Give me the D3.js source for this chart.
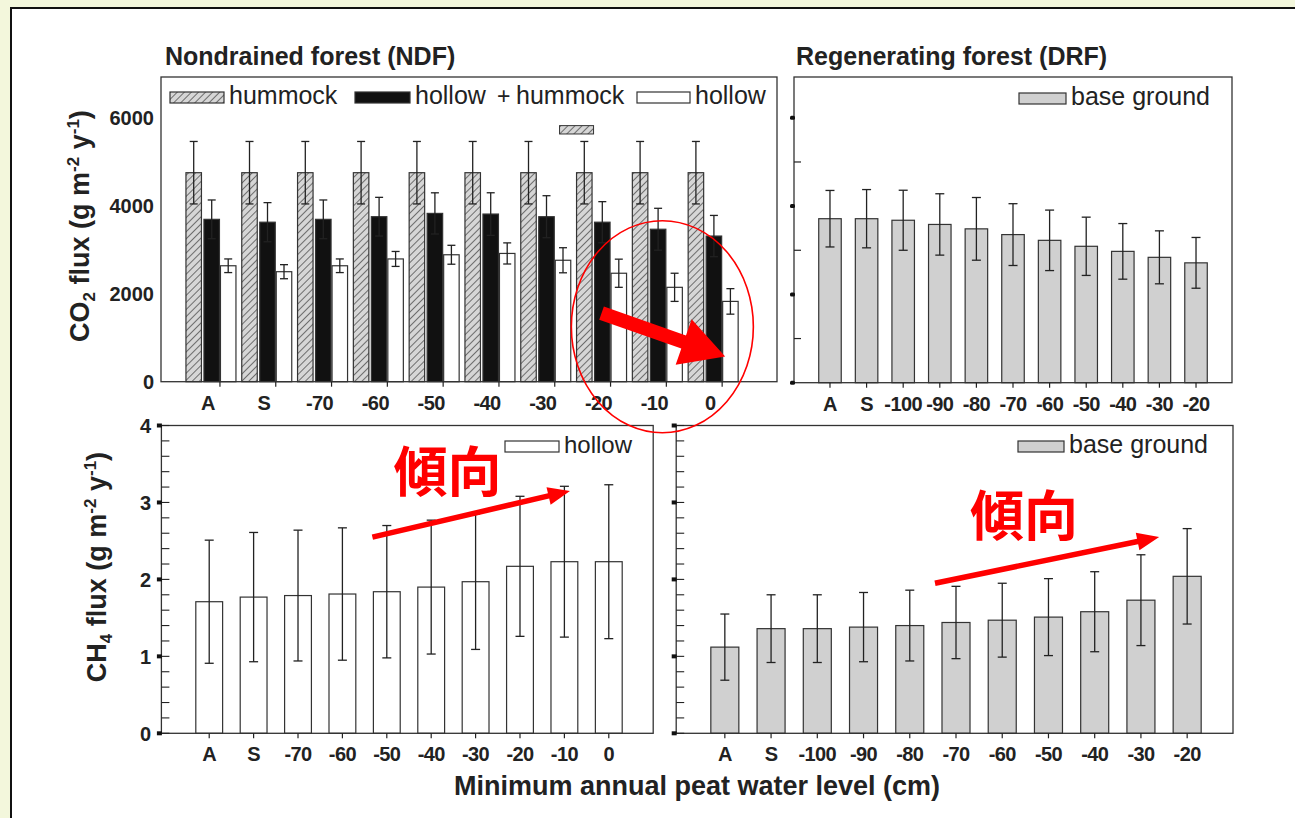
<!DOCTYPE html>
<html>
<head>
<meta charset="utf-8">
<script src="https://d3js.org/d3.v7.min.js"></script>
<style>
  body { margin: 0; background: #f3f7dc; }
  svg { display: block; font-family: "Liberation Sans", Arial, sans-serif; }
  .tick text { font-weight: bold; fill: #222; }
</style>
</head>
<body>
<script>
// ---- data ----
const ndfLevels = ['A', 'S', '-70', '-60', '-50', '-40', '-30', '-20', '-10', '0'];
const drfLevels = ['A', 'S', '-100', '-90', '-80', '-70', '-60', '-50', '-40', '-30', '-20'];

const co2Hummock    = [4750, 4750, 4750, 4750, 4750, 4750, 4750, 4750, 4750, 4750];
const co2HummockErr = [710, 710, 710, 710, 710, 710, 710, 710, 710, 710];
const co2Hollow     = [3690, 3625, 3690, 3750, 3825, 3810, 3750, 3625, 3465, 3310];
const co2HollowErr  = [440, 445, 440, 440, 468, 484, 477, 467, 476, 469];
const co2HollowH    = [2635, 2500, 2635, 2790, 2885, 2915, 2760, 2465, 2145, 1825];
const co2HollowHErr = [155, 160, 155, 170, 215, 240, 285, 320, 320, 290];

const co2Base    = [3715, 3715, 3680, 3585, 3485, 3355, 3225, 3090, 2975, 2840, 2715];
const co2BaseErr = [640, 660, 680, 695, 710, 700, 685, 660, 630, 600, 575];

const ch4Hollow    = [1.71, 1.77, 1.79, 1.81, 1.84, 1.90, 1.97, 2.17, 2.23, 2.23];
const ch4HollowErr = [0.80, 0.84, 0.85, 0.86, 0.86, 0.87, 0.88, 0.91, 0.98, 1.00];
const ch4Base      = [1.12, 1.36, 1.36, 1.38, 1.40, 1.44, 1.47, 1.51, 1.58, 1.73, 2.04];
const ch4BaseErr   = [0.43, 0.44, 0.44, 0.45, 0.46, 0.47, 0.48, 0.50, 0.52, 0.59, 0.62];

const co2Ticks = [0, 2000, 4000, 6000];
const ch4Ticks = [0, 1, 2, 3, 4];

const W = 1295, H = 818;
const svg = d3.select('body').append('svg').attr('width', W).attr('height', H);

const defs = svg.append('defs');
const pat = defs.append('pattern').attr('id', 'hatch')
  .attr('patternUnits', 'userSpaceOnUse').attr('width', 5).attr('height', 5)
  .attr('patternTransform', 'rotate(45)');
pat.append('rect').attr('width', 5).attr('height', 5).attr('fill', '#d6d6d6');
pat.append('line').attr('x1', 0).attr('y1', 0).attr('x2', 0).attr('y2', 5)
  .attr('stroke', '#333').attr('stroke-width', 1.3);

// page background
svg.append('rect').attr('width', W).attr('height', H).attr('fill', '#f3f7dc');
svg.append('rect').attr('x', 11).attr('y', 8).attr('width', W).attr('height', H)
  .attr('fill', '#fff').attr('stroke', '#111').attr('stroke-width', 2);

// ---- scales ----
const yCO2a = d3.scaleLinear().domain([0, 6925]).range([381.7, 77]);
const yCO2b = d3.scaleLinear().domain([0, 6925]).range([382.7, 77]);
const yCH4 = d3.scaleLinear().domain([0, 4]).range([733.3, 425.5]);

const x1 = d3.scaleBand().domain(ndfLevels).range([184, 742]).paddingInner(0.07).paddingOuter(0.035);
const x2 = d3.scaleBand().domain(drfLevels).range([805, 1221]).paddingInner(0.385).paddingOuter(0.375);
const x3 = d3.scaleBand().domain(ndfLevels).range([180, 638]).paddingInner(0.396).paddingOuter(0.356);
const x4 = d3.scaleBand().domain(drfLevels).range([694, 1218]).paddingInner(0.394).paddingOuter(0.364);

const ink = '#222';

function frame(x0, x1_, y0, y1) {
  svg.append('rect').attr('x', x0).attr('y', y0).attr('width', x1_ - x0).attr('height', y1 - y0)
    .attr('fill', 'none').attr('stroke', '#333').attr('stroke-width', 1.3);
}

function errBars(xs, vals, errs, y, cap) {
  const g = svg.append('g').attr('stroke', ink).attr('stroke-width', 1.3);
  vals.forEach((v, i) => {
    const cx = xs[i];
    const t = y(v + errs[i]), b = y(v - errs[i]);
    g.append('line').attr('x1', cx).attr('x2', cx).attr('y1', t).attr('y2', b);
    g.append('line').attr('x1', cx - cap / 2).attr('x2', cx + cap / 2).attr('y1', t).attr('y2', t);
    g.append('line').attr('x1', cx - cap / 2).attr('x2', cx + cap / 2).attr('y1', b).attr('y2', b);
  });
}

function bars(cats, xs, w, vals, y, fill) {
  svg.append('g').selectAll('rect').data(vals).join('rect')
    .attr('x', (d, i) => xs[i])
    .attr('y', d => y(d))
    .attr('width', w)
    .attr('height', d => y(0) - y(d))
    .attr('fill', fill).attr('stroke', '#333').attr('stroke-width', 1.2);
}

function xLabels(cats, pos, yAxis, tickPos) {
  const g = svg.append('g');
  cats.forEach((c, i) => {
    g.append('line').attr('x1', tickPos[i]).attr('x2', tickPos[i])
      .attr('y1', yAxis).attr('y2', yAxis + 5).attr('stroke', ink).attr('stroke-width', 1.2);
    g.append('text').attr('x', pos[i]).attr('y', yAxis + 28)
      .attr('text-anchor', 'middle').attr('font-size', 20).attr('font-weight', 'bold')
      .attr('letter-spacing', -0.6).attr('fill', ink).text(c);
  });
}

function legendItem(x, y, w, fill, label, fs) {
  svg.append('rect').attr('x', x).attr('y', y).attr('width', w).attr('height', 11)
    .attr('fill', fill).attr('stroke', '#333').attr('stroke-width', 1.2);
  svg.append('text').attr('x', x + w + 5).attr('y', y + 12).attr('font-size', fs || 25)
    .attr('fill', ink).text(label);
}

function text(x, y, s, fs, weight, anchor) {
  return svg.append('text').attr('x', x).attr('y', y).attr('font-size', fs)
    .attr('font-weight', weight || 'normal').attr('text-anchor', anchor || 'start')
    .attr('fill', ink).text(s);
}

function yTitle(x, y, base, sub) {
  svg.append('text').attr('transform', `translate(${x},${y}) rotate(-90)`)
    .attr('text-anchor', 'middle').attr('font-size', 27).attr('font-weight', 'bold').attr('fill', ink)
    .call(t => {
      t.append('tspan').text(base);
      t.append('tspan').attr('font-size', 17).attr('dy', 6).text(sub);
      t.append('tspan').attr('dy', -6).text(' flux (g m');
      t.append('tspan').attr('font-size', 17).attr('dy', -10).text('-2');
      t.append('tspan').attr('dy', 10).text(' y');
      t.append('tspan').attr('font-size', 17).attr('dy', -10).text('-1');
      t.append('tspan').attr('dy', 10).text(')');
    });
}

// ---- panel 1 : NDF CO2 ----
text(165, 65, 'Nondrained forest (NDF)', 25, 'bold');
const bw1 = 15.5;
const gx = ndfLevels.map(c => x1(c));
bars(ndfLevels, gx, bw1, co2Hummock, yCO2a, 'url(#hatch)');
bars(ndfLevels, gx.map(v => v + 18), bw1, co2Hollow, yCO2a, '#111');
bars(ndfLevels, gx.map(v => v + 34.5), bw1, co2HollowH, yCO2a, '#fff');
errBars(gx.map(v => v + bw1 / 2), co2Hummock, co2HummockErr, yCO2a, 8);
errBars(gx.map(v => v + 18 + bw1 / 2), co2Hollow, co2HollowErr, yCO2a, 8);
errBars(gx.map(v => v + 34.5 + bw1 / 2), co2HollowH, co2HollowHErr, yCO2a, 8);
frame(161, 777, 77, 381.7);
svg.append('g').attr('transform', 'translate(161,0)')
  .call(d3.axisLeft(yCO2a).tickValues(co2Ticks).tickSize(0).tickPadding(7).tickFormat(d3.format('d')))
  .call(g => g.select('.domain').remove())
  .selectAll('text').attr('font-size', 20).attr('dy', '0.36em');
xLabels(ndfLevels, gx.map(v => v + 26 - 4), 381.7, gx.map(v => v + 34));
// legend
legendItem(170, 92, 54, 'url(#hatch)', 'hummock');
legendItem(355, 92, 55, '#111', 'hollow');
text(497, 104, '+', 23);
text(516, 104, 'hummock', 25);
legendItem(637, 92, 53, '#fff', 'hollow');
svg.append('rect').attr('x', x1('-20') - 17).attr('y', yCO2a(5820)).attr('width', 34)
  .attr('height', yCO2a(5630) - yCO2a(5820)).attr('fill', 'url(#hatch)')
  .attr('stroke', '#333').attr('stroke-width', 1);
yTitle(89, 226, 'CO', '2');

// ---- panel 2 : DRF CO2 ----
text(796, 65, 'Regenerating forest (DRF)', 25, 'bold');
const bx2 = drfLevels.map(c => x2(c));
bars(drfLevels, bx2, x2.bandwidth(), co2Base, yCO2b, '#d0d0d0');
errBars(bx2.map(v => v + x2.bandwidth() / 2), co2Base, co2BaseErr, yCO2b, 9);
frame(794, 1232, 77, 382.7);
// y ticks without labels
[0, 1000, 2000, 3000, 4000, 5000, 6000].forEach(v => {
  if (v % 2000 === 0) {
    svg.append('rect').attr('x', 790).attr('y', yCO2b(v) - 2).attr('width', 5).attr('height', 4)
      .attr('rx', 1.5).attr('fill', '#111');
  } else {
    svg.append('line').attr('x1', 794).attr('x2', 801).attr('y1', yCO2b(v)).attr('y2', yCO2b(v))
      .attr('stroke', ink).attr('stroke-width', 1.2);
  }
});
xLabels(drfLevels, bx2.map(v => v + x2.bandwidth() / 2), 382.7, bx2.map(v => v + x2.bandwidth() / 2));
legendItem(1019, 93, 47, '#d0d0d0', 'base ground');

// ---- panel 3 : NDF CH4 ----
const bx3 = ndfLevels.map(c => x3(c));
bars(ndfLevels, bx3, x3.bandwidth(), ch4Hollow, yCH4, '#fff');
errBars(bx3.map(v => v + x3.bandwidth() / 2), ch4Hollow, ch4HollowErr, yCH4, 9);
frame(161.4, 653.2, 425.5, 733.3);

// ---- panel 4 : DRF CH4 ----
const bx4 = drfLevels.map(c => x4(c));
bars(drfLevels, bx4, x4.bandwidth(), ch4Base, yCH4, '#d0d0d0');
errBars(bx4.map(v => v + x4.bandwidth() / 2), ch4Base, ch4BaseErr, yCH4, 9);
frame(676.2, 1233, 425.5, 733.3);

function ch4Ticks_(xAxis) {
  d3.range(0, 4.001, 0.2).forEach(v => {
    svg.append('line').attr('x1', xAxis).attr('x2', xAxis + 8).attr('y1', yCH4(v)).attr('y2', yCH4(v))
      .attr('stroke', ink).attr('stroke-width', 1.1);
  });
  ch4Ticks.forEach(v => {
    svg.append('rect').attr('x', xAxis - 4.5).attr('y', yCH4(v) - 2).attr('width', 5).attr('height', 4)
      .attr('fill', '#111');
  });
}
ch4Ticks_(161.4);
ch4Ticks_(676.2);
svg.append('g').attr('transform', 'translate(157,0)')
  .call(d3.axisLeft(yCH4).tickValues(ch4Ticks).tickSize(0).tickPadding(6).tickFormat(d3.format('d')))
  .call(g => g.select('.domain').remove())
  .selectAll('text').attr('font-size', 20).attr('dy', '0.36em');
xLabels(ndfLevels, bx3.map(v => v + x3.bandwidth() / 2), 733.3, bx3.map(v => v + x3.bandwidth() / 2));
xLabels(drfLevels, bx4.map(v => v + x4.bandwidth() / 2), 733.3, bx4.map(v => v + x4.bandwidth() / 2));
legendItem(505, 441, 54, '#fff', 'hollow', 24);
legendItem(1018, 441, 46, '#d0d0d0', 'base ground', 25);

yTitle(106, 567, 'CH', '4');

text(697, 795, 'Minimum annual peat water level (cm)', 27, 'bold', 'middle');

// ---- red annotations ----
const red = '#f00';
svg.append('ellipse').attr('cx', x1('-10') + 30).attr('cy', yCO2a(1250))
  .attr('rx', 91).attr('ry', 106).attr('fill', 'none').attr('stroke', red).attr('stroke-width', 1.6);

function arrow(xa, ya, xb, yb, shaft, headW, headL) {
  const dx = xb - xa, dy = yb - ya, L = Math.hypot(dx, dy);
  const ux = dx / L, uy = dy / L, nx = -uy, ny = ux;
  const bx = xb - ux * headL, by = yb - uy * headL;
  const pts = [
    [xa + nx * shaft / 2, ya + ny * shaft / 2],
    [bx + nx * shaft / 2, by + ny * shaft / 2],
    [bx + nx * headW / 2, by + ny * headW / 2],
    [xb, yb],
    [bx - nx * headW / 2, by - ny * headW / 2],
    [bx - nx * shaft / 2, by - ny * shaft / 2],
    [xa - nx * shaft / 2, ya - ny * shaft / 2]
  ];
  svg.append('polygon').attr('points', pts.map(p => p.join(',')).join(' ')).attr('fill', red);
}
arrow(x1('-20') + 25, yCO2a(1560), x1('0') + 37, yCO2a(570), 14, 48, 44);
arrow(x3('-50') - 1, yCH4(2.55), x3('-10') + 19, yCH4(3.15), 5.5, 18, 22);
arrow(x4('-70') - 7, yCH4(1.95), x4('-20') - 14, yCH4(2.55), 5.5, 18, 22);

function kanji(x, y) {
  svg.append('text').attr('x', x).attr('y', y).attr('font-size', 54).attr('font-weight', 'bold')
    .attr('font-family', '"Noto Sans CJK JP", "Noto Sans CJK SC", sans-serif')
    .attr('fill', red).text('傾向');
}
kanji(x3('-50') + 20, yCH4(3.0) - 10);
kanji(x4('-70') + 28, yCH4(2.5) - 5);
</script>
</body>
</html>
